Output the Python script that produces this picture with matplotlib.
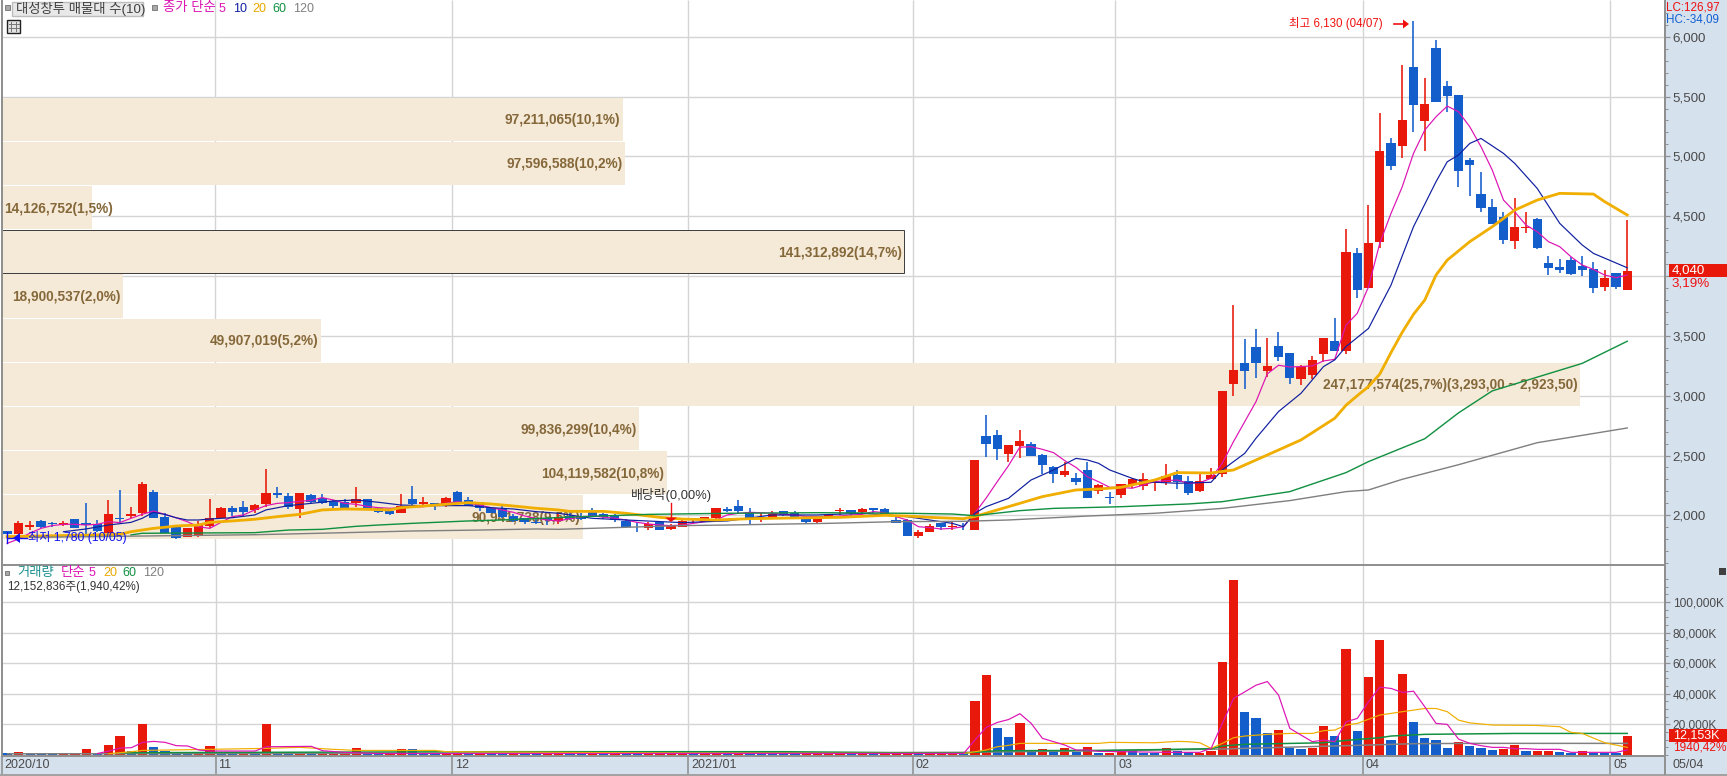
import matplotlib
matplotlib.use("Agg")
import matplotlib.pyplot as plt
from matplotlib.patches import Rectangle, Polygon
from matplotlib.ticker import FixedLocator, FuncFormatter
from matplotlib.transforms import blended_transform_factory, ScaledTranslation

plt.rcParams['font.family'] = ['Liberation Sans', 'Noto Sans CJK KR', 'DejaVu Sans']

# ---------- data ----------
open_ = [1869,1844,1902,1953,1936,1922,1969,1936,1928,1850,1980,1994,2022,2195,1986,1911,1819,1830,1911,1975,
         2064,2070,2042,2098,2187,2162,2053,2170,2145,2120,2109,2103,2137,2061,2036,2020,2137,2095,2103,2078,
         2195,2128,2111,2061,2053,1994,1978,1944,1978,1953,1997,1994,2036,2011,2003,1953,1905,1891,1947,1886,
         1902,1969,1944,1978,2053,2078,2028,1978,1969,2036,2020,1978,1944,1978,2036,2044,2028,2061,2053,1961,
         1961,1827,1861,1936,1902,1906,1877,2663,2672,2516,2580,2596,2504,2404,2337,2312,2379,2203,2151,2170,
         2254,2245,2273,2279,2337,2287,2203,2304,2346,3098,3274,3407,3207,3416,3357,3140,3173,3349,3458,3374,
         4192,3899,4284,5111,5088,5746,5295,5905,5588,5512,4969,4685,4576,4493,4293,4404,4477,4108,4075,4133,
         4083,4058,3908,4025,3883]
high = [1869,1953,1953,1961,1947,1955,1969,2106,1961,2128,2212,2070,2279,2212,2017,1911,1894,1953,2137,2072,
        2078,2120,2092,2387,2237,2187,2187,2178,2178,2128,2137,2237,2137,2070,2045,2178,2245,2153,2103,2153,
        2203,2153,2111,2061,2086,2011,1978,1978,1978,2011,2031,2020,2061,2022,2011,1972,1944,1947,1955,1930,
        1961,1978,1986,2061,2070,2128,2061,2017,2036,2036,2036,1994,1978,2011,2061,2044,2061,2061,2061,1994,
        1972,1877,1928,1936,1944,1939,2463,2836,2713,2588,2713,2613,2513,2412,2446,2354,2446,2262,2195,2262,
        2309,2354,2295,2429,2379,2329,2354,2396,3040,3759,3474,3558,3483,3533,3357,3257,3332,3483,3650,4390,
        4233,4592,5359,5153,5763,6130,5655,5972,5630,5512,4986,4869,4643,4535,4652,4535,4485,4167,4142,4158,
        4167,4117,4050,4025,4468]
low = [1844,1844,1877,1891,1905,1911,1891,1836,1863,1850,1947,1980,1997,1980,1850,1802,1819,1822,1891,1975,
       1997,1997,2022,2072,2142,2053,1980,2103,2092,2061,2042,2072,2045,2020,2003,2020,2078,2070,2045,2070,
       2095,2078,2036,2020,1975,1947,1928,1925,1919,1928,1961,1958,1989,1972,1944,1900,1861,1877,1877,1877,
       1902,1933,1944,1950,2031,2011,1928,1944,1969,1994,1969,1928,1928,1978,2003,1997,2020,2022,1994,1939,
       1827,1810,1861,1877,1877,1877,1877,2490,2463,2446,2479,2496,2346,2270,2321,2254,2145,2178,2095,2145,
       2229,2212,2203,2254,2220,2170,2195,2304,2323,2998,3056,3148,3157,3290,3098,3090,3140,3282,3374,3350,
       3816,3899,4234,4886,4986,5203,5044,5454,5370,4744,4668,4535,4434,4268,4226,4360,4229,4008,4025,4008,
       4000,3858,3875,3892,3883]
close = [1844,1936,1916,1902,1928,1936,1897,1916,1869,2011,1969,2011,2262,1980,1852,1811,1894,1928,1978,2064,
         2028,2028,2086,2187,2170,2070,2187,2111,2103,2078,2053,2137,2053,2028,2011,2075,2095,2111,2078,2145,
         2103,2078,2061,2020,1986,1953,1944,1936,1964,1986,1969,1972,1994,1989,1961,1902,1900,1930,1877,1911,
         1953,1978,1986,2061,2036,2036,1978,1986,2011,2000,1986,1944,1978,2003,2044,2022,2053,2044,1994,1939,
         1827,1861,1911,1902,1911,1900,2463,2596,2555,2588,2622,2496,2421,2346,2371,2279,2145,2254,2145,2262,
         2304,2304,2287,2329,2279,2187,2287,2337,3040,3215,3207,3274,3249,3324,3148,3240,3299,3483,3374,4200,
         3885,4275,5044,4919,5304,5429,5437,5454,5504,4877,4927,4568,4434,4301,4410,4410,4234,4067,4050,4017,
         4050,3899,3983,3908,4040]

ma5 = [1766,1802,1850,1891,1914,1925,1925,1919,1925,1947,1939,1975,2008,2036,2008,1980,1947,1905,1891,1941,
       1989,2003,2045,2081,2100,2106,2117,2125,2148,2128,2100,2092,2075,2064,2059,2064,2070,2072,2086,2100,
       2114,2100,2086,2064,2045,2025,1994,1975,1961,1953,1972,1985,1994,1985,1975,1961,1941,1928,1919,1914,
       1919,1933,1947,1961,2003,2017,2025,2022,2017,2008,2003,1989,1989,1989,1994,2003,2008,2031,2022,1989,
       1961,1905,1897,1886,1891,1905,2017,2142,2281,2415,2569,2574,2552,2524,2457,2401,2323,2281,2234,2234,
       2226,2254,2281,2290,2295,2268,2273,2309,2435,2616,2783,2950,3182,3254,3240,3243,3249,3290,3304,3590,
       3688,3910,4273,4523,4746,5025,5220,5331,5420,5373,5248,5081,4886,4635,4537,4426,4370,4287,4245,4161,
       4092,4055,4008,3986,4008]
ma10_idx = [5,7,9,11,12,13,14,15,16,17,18,19,20,22,23,25,27,29,31,33,35,37,39,41,43,45,47,49,52,55,60,64,68,72,76,
            78,80,81,84,85,86,87,89,91,93,95,96,97,98,100,101,104,107,108,110,111,113,115,117,118,119,121,123,125,
            127,128,129,130,131,133,134,136,138,140,141,144]
ma10_val = [1863,1886,1919,1941,1975,2025,2008,1980,1961,1961,1969,1975,1980,2003,2045,2081,2100,2120,2128,2109,2086,
            2081,2081,2081,2064,2053,2031,2017,1975,1961,1939,1953,2003,2003,2017,2003,1989,1975,1933,1905,2017,2072,
            2142,2295,2379,2476,2463,2435,2379,2309,2281,2268,2276,2379,2518,2644,2867,3020,3243,3299,3410,3562,3924,
            4412,4788,4955,5011,5108,5150,5025,4941,4732,4440,4259,4189,4069]
ma20_idx = [0,8,10,11,12,13,14,15,17,18,20,22,24,26,28,30,32,34,35,37,39,41,43,45,47,49,50,53,55,58,60,63,66,70,74,78,
            80,82,85,86,90,92,95,97,99,102,104,107,109,112,115,118,119,120,121,122,123,124,125,126,127,128,130,132,134,136,138,141,142,144]
ma20_val = [1822,1836,1841,1863,1877,1891,1900,1911,1919,1941,1953,1967,1989,2008,2045,2053,2050,2045,2064,2078,2092,
            2106,2095,2078,2059,2045,2033,2033,2017,1983,1969,1961,1972,1978,1983,2000,1994,1983,1972,1990,2100,2156,
            2212,2220,2234,2295,2357,2354,2379,2504,2630,2811,2920,3000,3076,3180,3360,3530,3680,3799,4008,4133,4287,4412,4551,4635,4691,
            4685,4621,4510]
ma60_idx = [11,12,22,25,28,31,33,36,41,44,50,57,64,72,80,84,86,90,93,99,105,108,111,114,119,121,126,129,132,140,144]
ma60_val = [1836,1850,1855,1877,1883,1908,1919,1933,1953,1961,1985,2008,2017,2022,2017,2011,1997,2039,2058,2072,2095,
            2114,2156,2198,2357,2449,2640,2856,3040,3270,3455]
ma120_idx = [2,22,25,30,36,42,47,49,55,60,64,73,79,85,89,96,102,108,114,119,121,124,129,136,144]
ma120_val = [1816,1838,1844,1855,1869,1877,1886,1883,1900,1914,1919,1933,1947,1950,1961,1994,2017,2058,2123,2198,2212,
             2301,2423,2607,2730]

price_ticks = [2000,2500,3000,3500,4000,4500,5000,5500,6000]
price_tick_labels = ['2,000','2,500','3,000','3,500','','4,500','5,000','5,500','6,000']

band_bottom = [1805,2174.5,2544,2913.5,3283,3652.5,4022,4391.5,4761,5130.5]
band_volume = [90.941738,104.119582,99.836299,247.177574,49.907019,18.900537,141.312892,14.126752,97.596588,97.211065]
band_label = ['90,941,738(9,5%)','104,119,582(10,8%)','99,836,299(10,4%)',
              '247,177,574(25,7%)(3,293,00 ~ 2,923,50)','49,907,019(5,2%)','18,900,537(2,0%)',
              '141,312,892(14,7%)','14,126,752(1,5%)','97,596,588(10,2%)','97,211,065(10,1%)']

volume = [1000,1950,650,650,650,650,650,3900,650,6500,12400,2600,20200,5200,2800,1000,1000,800,5900,1300,
          1300,1300,1300,20200,1500,1500,1500,1500,1500,1500,1500,4560,1500,1500,1500,3900,3900,1500,1500,1500,
          1000,870,870,1000,1000,1000,870,1000,1000,1000,1000,1000,1000,1000,1000,1000,1000,1000,1000,1000,
          1000,1000,1000,1000,1000,1000,1000,1000,1000,1000,1000,1000,1000,1000,1000,1000,1000,1000,1000,1000,
          1000,1000,1000,1000,1000,1300,35200,52100,17600,11700,20900,2400,3900,2600,4560,2170,5200,1300,1300,2400,
          2600,1300,1500,4560,2600,1700,1300,2400,60600,114100,28000,24100,14300,16300,4800,3900,4800,18900,12400,69100,
          15700,50900,75000,9800,52800,21500,11100,9800,4600,8500,5900,4600,3300,3900,6500,2600,2600,2600,2000,1500,
          2600,1500,1500,1500,12153]
vol_colour = ("brbbbrrrbrrbrbbbbrrb" "brbrbbrbrrrrbbrrbbbr" "rbrbbrbbrrbbrbrbbrrr" "rbrrbrbbbbbrrrrbrbrr"
              "rbrrrbrrbbrbrbrbrbrr" "bbbrbbrrrrbbbrbbrrbr" "brrbrbbbbrbbbrrbrrbb" "rbbbr")

vma5_idx = [8,9,10,11,12,13,14,15,16,17,18,22,23,27,28,30,33,85,86,87,88,89,90,91,92,93,94,95,96,97,103,106,107,108,109,110,
            111,112,113,114,115,116,117,118,119,120,121,122,123,124,125,126,127,128,129,130,131,132,133,134,135,136,138,139,143,144]
vma5_val = [1000,2600,4560,4780,8260,8900,8260,6100,5900,3260,2600,2600,5400,5650,2800,1700,1000,1000,9800,18000,21300,23200,
            27000,20700,10900,8700,6500,3260,3260,2400,1740,1740,4350,20650,37000,41300,45650,48000,39100,17400,13000,8700,
            9800,8700,21700,23900,34800,44350,43500,40900,41700,31500,20650,20000,10400,7600,6100,5000,5000,4130,4130,3700,
            3700,1740,1740,3260]
vma20_idx = [9,11,12,18,23,26,29,31,38,39,60,85,87,88,89,90,97,98,102,104,105,106,107,108,109,110,112,114,116,117,118,119,120,
             122,124,126,127,128,129,130,132,136,138,139,140,142,143,144]
vma20_val = [870,2170,3000,3700,4350,5000,3700,3000,3000,2170,1300,1000,3260,5400,6300,7600,7600,8260,8000,8900,8700,8000,4350,
             7600,11300,12400,13500,14100,14100,15900,16300,19600,20650,26100,28300,30400,30400,28300,22800,21000,19600,19300,
             18500,14800,14100,8000,6500,5000]
vma60_idx = [10,25,44,69,81,85,88,97,102,107,108,110,117,119,122,123,126,134,144]
vma60_val = [1500,1800,2170,2170,1300,1300,2800,3000,3500,4130,5870,7000,8000,9560,11300,12400,13500,14100,14100]
vma120_idx = [0,18,69,85,102,108,110,121,125,130,144]
vma120_val = [800,870,1500,1740,3260,3900,4350,6500,7400,7600,7600]

vol_ticks = [20000,40000,60000,80000,100000]

month_first_idx = [0,19,40,61,81,99,121,143]
month_labels = ['2020/10','11','12','2021/01','02','03','04','05']

# ---------- style ----------
W, H = 1727, 776
RED, BLUE = '#E8190A', '#145ECC'
MAG, NAVY, ORANGE, GREEN, GRAY = '#DC14B4', '#1020A0', '#F0AE00', '#109040', '#808080'
BAND = '#F5E9D7'
GRID = '#D4D4D4'
AX = '#909090'
PANEL = '#D6E1EE'
TXT = '#4A4A4A'
BROWN = '#85683A'
AXFS = 9.0
px = 0.72

fig = plt.figure(figsize=(W/100, H/100), dpi=100, facecolor='white')


def rect_ax(x0, y0, x1, y1, **kw):
    return fig.add_axes([x0/W, 1-y1/H, (x1-x0)/W, (y1-y0)/H], **kw)


# background axes holding the right panel and date strip
bg = fig.add_axes([0, 0, 1, 1], zorder=-1)
bg.set_xlim(0, W)
bg.set_ylim(H, 0)
bg.axis('off')
bg.add_patch(Rectangle((1665.5, 0), W-1665.5, 774, fc=PANEL, ec='none'))
bg.add_patch(Rectangle((0, 756), 1665.5, 18, fc=PANEL, ec='none'))

XL = (-0.462, 147.4)
PL = (1589, 6307)
VL = (-650, 124500)
month_x = [m-0.5 for m in month_first_idx]
x_idx = list(range(len(close)))

# bands + grid, below the candles
ab = rect_ax(2, 0, 1665.5, 564.5, zorder=1)
ab.set_xlim(0, 1663.5/6.385)
ab.set_ylim(*PL)
ab.set_yticks(price_ticks)
ab.set_xticks([])
ab.tick_params(left=False, right=False, labelleft=False)
ab.yaxis.grid(True, color=GRID, lw=1.4*px)
ab.set_axisbelow(True)
for s in ab.spines.values():
    s.set_visible(False)

# price axes
ax = rect_ax(2, 0, 1665.5, 564.5, zorder=2)
ax.patch.set_visible(False)
ax.set_xlim(*XL)
ax.set_ylim(*PL)
ab.vlines(month_x[1:], 0, 1, color=GRID, lw=1.4*px, zorder=0.6,
          transform=blended_transform_factory(ax.transData, ab.transAxes))
ab.barh(band_bottom, band_volume, height=361, left=0, align='edge', color=BAND, zorder=1)
for b, v, t in zip(band_bottom, band_volume, band_label):
    yc = b+172
    if v < 15:
        ab.text(0.3, yc, t, ha='left', va='center', color=BROWN, fontsize=9.8, fontweight='bold', zorder=2)
    else:
        ab.text(v-0.4, yc, t, ha='right', va='center', color=BROWN, fontsize=9.8, fontweight='bold', zorder=2)
ab.add_patch(Rectangle((0, band_bottom[6]), band_volume[6], 361, fc='none', ec='#404040', lw=1*px, zorder=2))

# candles
for i, o, h, l, c in zip(x_idx, open_, high, low, close):
    col = RED if c >= o else BLUE
    ax.vlines(i, l, h, color=col, lw=1.6*px, zorder=4)
    ax.bar(i, abs(c-o), bottom=min(o, c), width=0.82, color=col, zorder=5, antialiased=False)
ax.plot(x_idx, ma5, color=MAG, lw=1.2*px, zorder=6)
ax.plot(ma10_idx, ma10_val, color=NAVY, lw=1.2*px, zorder=6)
ax.plot(ma20_idx, ma20_val, color=ORANGE, lw=2.8*px, zorder=6)
ax.plot(ma60_idx, ma60_val, color=GREEN, lw=1.4*px, zorder=6)
ax.plot(ma120_idx, ma120_val, color=GRAY, lw=1.4*px, zorder=6)

ax.yaxis.tick_right()
ax.set_xticks([])
ax.set_yticks(price_ticks)
ax.set_yticklabels(price_tick_labels)
ax.yaxis.set_minor_locator(FixedLocator(list(range(1600, 6300, 100))))
ax.tick_params(axis='y', which='major', length=5*px, width=1.2*px, color=AX, labelsize=AXFS+0.6, labelcolor=TXT, pad=1.5)
ax.tick_params(axis='y', which='minor', length=3*px, width=1*px, color=AX)
for n, s in ax.spines.items():
    s.set_visible(n in ('left', 'right', 'bottom'))
    s.set_color(AX)
    s.set_linewidth(2*px)

# volume axes
av = rect_ax(2, 564.5, 1665.5, 756, zorder=2)
av.patch.set_visible(True)
av.set_xlim(*XL)
av.set_ylim(*VL)
av.yaxis.tick_right()
av.set_yticks(vol_ticks)
av.yaxis.set_major_formatter(FuncFormatter(lambda v, p: f'{int(v):,}K'))
av.yaxis.set_minor_locator(FixedLocator(list(range(0, 120000, 5000))))
av.tick_params(axis='y', which='major', length=5*px, width=1.2*px, color=AX, labelsize=AXFS-0.4, labelcolor=TXT, pad=1.5)
av.tick_params(axis='y', which='minor', length=3*px, width=1*px, color=AX)
av.yaxis.grid(True, which='major', color=GRID, lw=1.4*px)
av.set_axisbelow(True)
av.set_xticks(month_x)
av.set_xticklabels(month_labels, ha='left')
av.tick_params(axis='x', length=18*px, width=1.6*px, color=AX, labelsize=AXFS, labelcolor=TXT, pad=-10.5)
shift = ScaledTranslation(2/72, 0, fig.dpi_scale_trans)
for lab in av.get_xticklabels():
    lab.set_transform(lab.get_transform()+shift)
av.vlines(month_x[1:], *VL, color=GRID, lw=1.4*px, zorder=0.6)
av.bar(x_idx, volume, width=0.82, color=[RED if k == 'r' else BLUE for k in vol_colour], zorder=3, antialiased=False)
av.plot(vma120_idx, vma120_val, color=GRAY, lw=1.5*px, zorder=4)
av.plot(vma60_idx, vma60_val, color=GREEN, lw=1.5*px, zorder=4)
av.plot(vma20_idx, vma20_val, color=ORANGE, lw=1.2*px, zorder=5)
av.plot(vma5_idx, vma5_val, color=MAG, lw=1.2*px, zorder=6)
for n, s in av.spines.items():
    s.set_color(AX)
    s.set_linewidth(2*px)

# overlay in pixel coordinates for the annotations
ov = fig.add_axes([0, 0, 1, 1], zorder=10)
ov.set_xlim(0, W)
ov.set_ylim(H, 0)
ov.axis('off')
ov.patch.set_visible(False)


def T(x, y, s, c=TXT, size=9.6, ha='left', **k):
    ov.text(x, y, s, color=c, fontsize=size, ha=ha, va='center', **k)


ov.add_patch(Rectangle((5, 5), 5, 5, fc='#A8A8A8', ec='#707070', lw=0.6))
ov.add_patch(Rectangle((12.5, 1.5), 131, 14, fc='#E8E8E8', ec='#BDBDBD', lw=1))
T(16, 8.5, '대성창투 매물대 수(10)', '#404040', 9.6)
ov.add_patch(Rectangle((152, 5), 5, 5, fc='#A8A8A8', ec='#707070', lw=0.6))
T(163, 8.5, '종가 단순', MAG, 9.6)
for x, s, c in [(219, '5', MAG), (233, '10', NAVY), (252, '20', '#E8A800'), (272, '60', GREEN), (293, '120', GRAY)]:
    T(x, 8.5, s, c, 9.0)
ov.add_patch(Rectangle((7.5, 19.5), 13, 13, fc='#E4E4E4', ec='#222222', lw=1))
for v in [11.5, 16.5]:
    ov.plot([v, v], [22, 31], color='#777777', lw=0.7)
for v in [23.5, 27.5]:
    ov.plot([9, 19], [v, v], color='#777777', lw=0.7)

T(1289, 24, '최고 6,130 (04/07)', '#F01010', 8.3)
ov.plot([1394, 1404], [24, 24], color='#F01010', lw=1.2)
ov.add_patch(Polygon([[1403, 19.5], [1409, 24], [1403, 28.5]], fc='#F01010', ec='none'))

T(1666.5, 7.5, 'LC:126,97', '#F01010', 8.4)
T(1666.5, 20, 'HC:-34,09', '#1060D0', 8.4)
ov.plot([1665.5, 1665.5], [0, 774], color=AX, lw=1.4)
ov.plot([0, W], [774.5, 774.5], color=AX, lw=1.2)
ov.add_patch(Rectangle((1669, 264), 58, 13, fc=RED, ec='none'))
T(1672, 270.5, '4,040', 'white', AXFS+0.6)
T(1672, 283.5, '3,19%', '#F01010', AXFS+0.6)

ov.add_patch(Rectangle((1669, 729), 58, 13, fc=RED, ec='none'))
T(1673, 735.5, '12,153K', 'white', AXFS)
T(1673, 747.5, '1940,42%', '#F01010', AXFS-0.4)
ov.add_patch(Rectangle((1719, 568), 7, 7, fc='#404040', ec='none'))
T(1673, 765, '05/04', TXT, AXFS)

# low marker
ov.plot([7, 7], [532, 543], color='#1010F0', lw=1)
ov.plot([7, 27], [538, 538], color='#1010F0', lw=1)
ov.add_patch(Polygon([[13, 538], [20, 533], [20, 543]], fc='#1010F0', ec='none'))
T(28, 538, '최저 1,780 (10/05)', '#1010F0', 8.8)

# ex-dividend marker
T(631, 495, '배당락(0,00%)', '#333333', 9.3)
ov.plot([671, 671], [503, 518], color='#F01010', lw=1)
ov.add_patch(Polygon([[665, 517.5], [677, 517.5], [671, 522]], fc='#F01010', ec='none'))

# volume legend
ov.add_patch(Rectangle((5, 571), 4, 4, fc='#A8A8A8', ec='#707070', lw=0.6))
T(17, 573, '거래량', '#209090', 9.6)
T(61, 573, '단순', MAG, 9.6)
for x, s, c in [(89, '5', MAG), (103, '20', '#E8A800'), (122.5, '60', GREEN), (143.5, '120', GRAY)]:
    T(x, 573, s, c, 9.0)
T(7, 587, '12,152,836주(1,940,42%)', '#333333', 8.4)

fig.savefig('out.png', dpi=100, facecolor='white')
